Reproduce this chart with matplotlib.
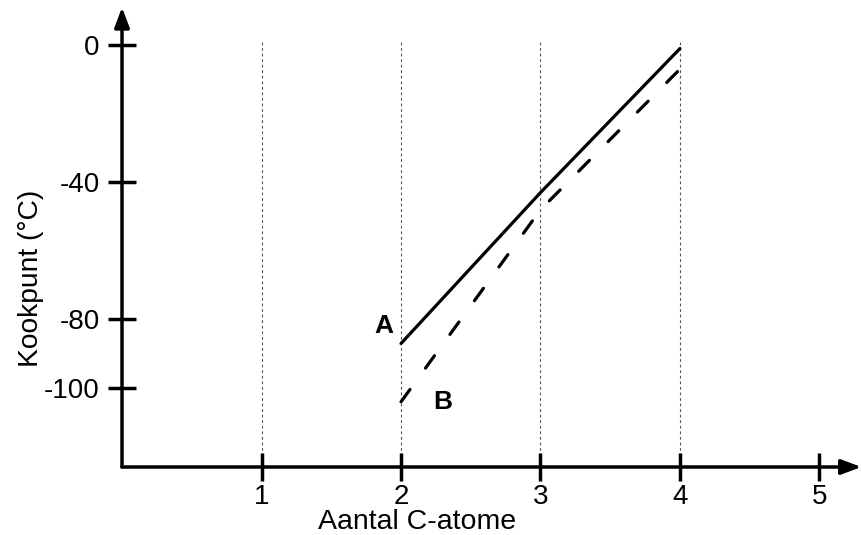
import numpy as np
import matplotlib
matplotlib.use("Agg")
import matplotlib.pyplot as plt

# data
c_atoms = [2, 3, 4]
kook_A = [-87, -43, -1]
kook_B = [-104, -48, -7]

xticks = [1, 2, 3, 4, 5]
yticks = [0, -40, -80, -100]

plt.rcParams['font.family'] = ['Liberation Sans', 'DejaVu Sans']
plt.rcParams['lines.scale_dashes'] = False

fig = plt.figure(figsize=(8.61, 5.35), dpi=100)
ax = fig.add_axes([0.1417, 0.1271, 0.8587, 0.8592])
xmax, ymin, ymax = 5.3, -123, 11
ax.set_xlim(0, xmax)
ax.set_ylim(ymin, ymax)

for s in ax.spines.values():
    s.set_visible(False)

# assen met pijlen
ax.annotate('', xy=(0, ymax), xytext=(0, ymin), annotation_clip=False,
            arrowprops=dict(arrowstyle='-|>,head_length=1.2,head_width=0.45', lw=2.5, color='black',
                            shrinkA=0, shrinkB=0))
ax.annotate('', xy=(xmax, ymin), xytext=(0, ymin), annotation_clip=False,
            arrowprops=dict(arrowstyle='-|>,head_length=1.2,head_width=0.45', lw=2.5, color='black',
                            shrinkA=0, shrinkB=0))

# stippellijnen
for xv in xticks[:-1]:
    ax.plot([xv, xv], [ymin, 1], color='#555555', lw=0.8, ls=(0, (2, 2)), zorder=1)

ax.plot(c_atoms, kook_A, color='black', lw=2.3, solid_capstyle='round', solid_joinstyle='round')
ax.plot(c_atoms, kook_B, color='black', lw=2.3, ls=(0, (11, 19)), dash_capstyle='round')

ax.text(1.88, -82, 'A', fontsize=19, fontweight='bold', ha='center', va='center')
ax.text(2.30, -104, 'B', fontsize=19, fontweight='bold', ha='center', va='center')

ax.set_xticks(xticks)
ax.set_yticks(yticks)
ax.set_xticklabels([str(v) for v in xticks], fontsize=20)
ax.set_yticklabels([str(v) for v in yticks], fontsize=20)
ax.tick_params(axis='both', direction='inout', length=20, width=2.5, color='black')
ax.tick_params(axis='x', pad=2)
ax.tick_params(axis='y', pad=6)

ax.set_xlabel('Aantal C-atome', fontsize=20.5, va='baseline')
ax.set_ylabel('Kookpunt (°C)', fontsize=20.3)
# labels staan niet in het midden van de as
ax.xaxis.set_label_coords((417 - 122) / (xmax * 139.5), (467 - 529) / 459.7)
ax.yaxis.set_label_coords(-0.105, (467 - 278) / 459.7)

fig.savefig('out.png', dpi=100)
